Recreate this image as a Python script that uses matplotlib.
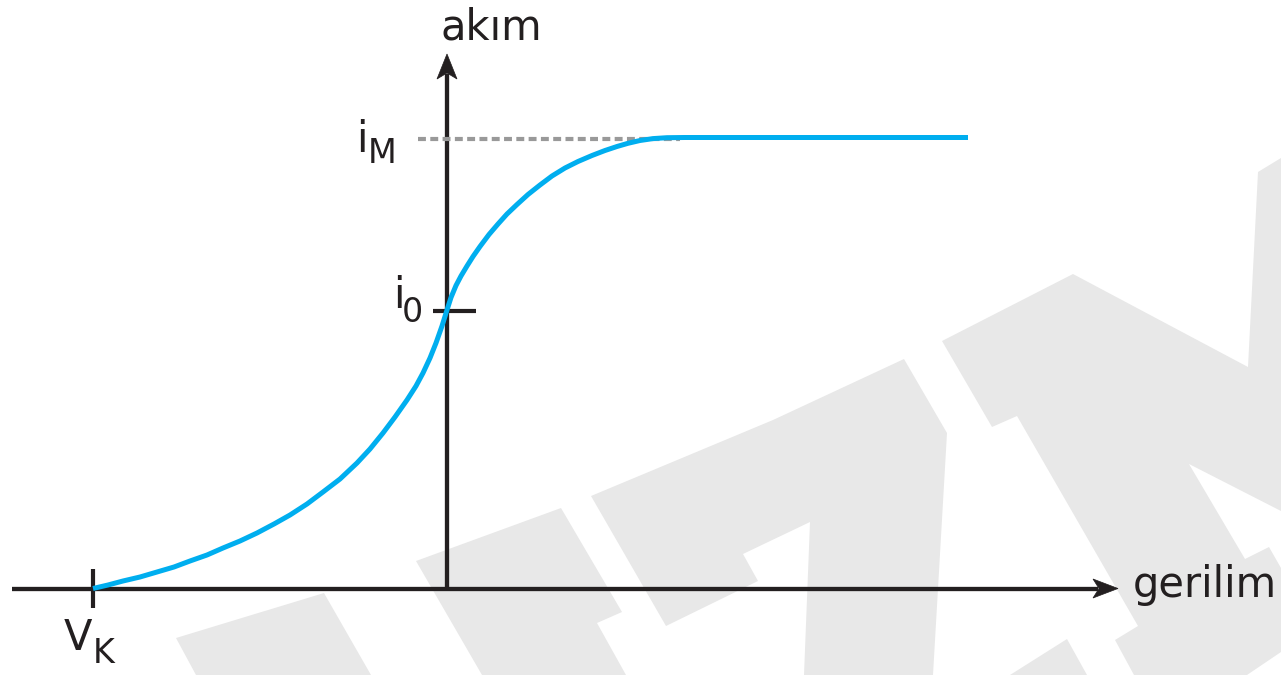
import matplotlib.pyplot as plt
from matplotlib.patches import Polygon

# curve (gerilim, akım), origin at the axes crossing
gerilim = [-354, -339, -324, -307, -290, -273, -257, -240, -224, -207, -190, -173, -157,
           -140, -124, -107, -90, -77, -64, -52, -40, -31, -24, -17, -11, -5, 0,
           4, 9, 14, 20, 26, 33, 42, 51, 60, 70, 81, 93, 105, 118, 131, 145, 158,
           170, 181, 193, 206, 220, 238, 521]
akim = [0, 3.5, 7.5, 11.5, 16.5, 21.5, 27.5, 33.5, 40.5, 47.5, 55.5, 64.5, 73.5,
        84.5, 96.5, 109.5, 125.5, 139.5, 155.5, 171.5, 188.5, 202.5, 215.5, 230.5, 245.5, 262.5, 278.5,
        291, 303, 312.5, 322.5, 332, 342, 354, 364.5, 374.5, 384, 394, 403.5, 412.5, 420.5, 427, 433, 438,
        442, 445.2, 448, 449.9, 450.8, 451, 451]

V_K = -354
i_0 = 278
i_M = 451

# figure is 1281x675 px, origin of the axes sits at pixel (447, 588.5)
X0, Y0 = 447, 588.5


def px(x, y):
    return (x - X0, Y0 - y)


# light gray watermark pieces (pixel outlines)
watermark = [
    [(176, 638), (324, 593), (371, 675), (196, 675)],
    [(416, 561), (561, 508), (622, 612), (597, 623), (626, 675), (482, 675)],
    [(591, 496), (773, 420), (904, 359), (947, 433), (933, 675), (804, 675),
     (810, 522), (743, 554), (758, 581), (666, 626)],
    [(942, 341), (1073, 274), (1248, 367), (1258, 172), (1281, 158), (1281, 511),
     (1189, 464), (1245, 559), (1269, 547), (1281, 568), (1281, 652), (1247, 675),
     (1134, 675), (1115, 640), (1138, 626), (1017, 416), (992, 427)],
    [(1010, 675), (1067, 639), (1087, 675)],
]

ink = '#231f20'
blue = '#00aeef'

fig = plt.figure(figsize=(12.81, 6.75), dpi=100)
ax = fig.add_axes([0, 0, 1, 1])
ax.set_xlim(-X0, 1281 - X0)
ax.set_ylim(Y0 - 675, Y0)
ax.axis('off')

for poly in watermark:
    ax.add_patch(Polygon([px(x, y) for x, y in poly], closed=True,
                         fc='#e8e8e8', ec='none', zorder=0))

# axes with arrow heads
x_end, y_end = 1118 - X0, Y0 - 54
ax.plot([12 - X0, x_end - 20], [0, 0], color=ink, lw=3.1, solid_capstyle='butt', zorder=2)
ax.plot([0, 0], [0, y_end - 20], color=ink, lw=3.1, solid_capstyle='butt', zorder=2)
ax.add_patch(Polygon([(x_end, 0), (x_end - 25, 9.5), (x_end - 19, 0), (x_end - 25, -9.5)],
                     closed=True, fc=ink, ec=ink, lw=0.5, zorder=2))
ax.add_patch(Polygon([(0, y_end), (10, y_end - 25), (0, y_end - 19), (-10, y_end - 25)],
                     closed=True, fc=ink, ec=ink, lw=0.5, zorder=2))

# tick marks
ax.plot([V_K, V_K], [-19, 20], color=ink, lw=3.0, solid_capstyle='butt', zorder=2)
ax.plot([-14, 29], [i_0, i_0], color=ink, lw=3.0, solid_capstyle='butt', zorder=2)

# saturation level
ax.plot([418 - X0, 680 - X0], [i_M - 1, i_M - 1], color='#999999', lw=3.0,
        dashes=(1.9, 1.05), zorder=3)

# current curve
ax.plot(gerilim, akim, color=blue, lw=3.6, solid_capstyle='butt',
        solid_joinstyle='round', zorder=4)

fs, fs_sub = 30, 24
ax.text(44, 548.5, 'akım', fontsize=fs, color=ink, ha='center', va='baseline')
ax.text(686, -8.5, 'gerilim', fontsize=fs, color=ink, ha='left', va='baseline')
ax.text(-383, -61.5, 'V', fontsize=fs, color=ink, ha='left', va='baseline')
ax.text(-354, -74.5, 'K', fontsize=fs_sub, color=ink, ha='left', va='baseline')
ax.text(-91, 436.5, 'i', fontsize=fs, color=ink, ha='left', va='baseline')
ax.text(-79, 425.5, 'M', fontsize=fs_sub, color=ink, ha='left', va='baseline')
ax.text(-54, 280.5, 'i', fontsize=fs, color=ink, ha='left', va='baseline')
ax.text(-45, 266.5, '0', fontsize=fs_sub, color=ink, ha='left', va='baseline')

fig.savefig('out.png', dpi=100, facecolor='white')
